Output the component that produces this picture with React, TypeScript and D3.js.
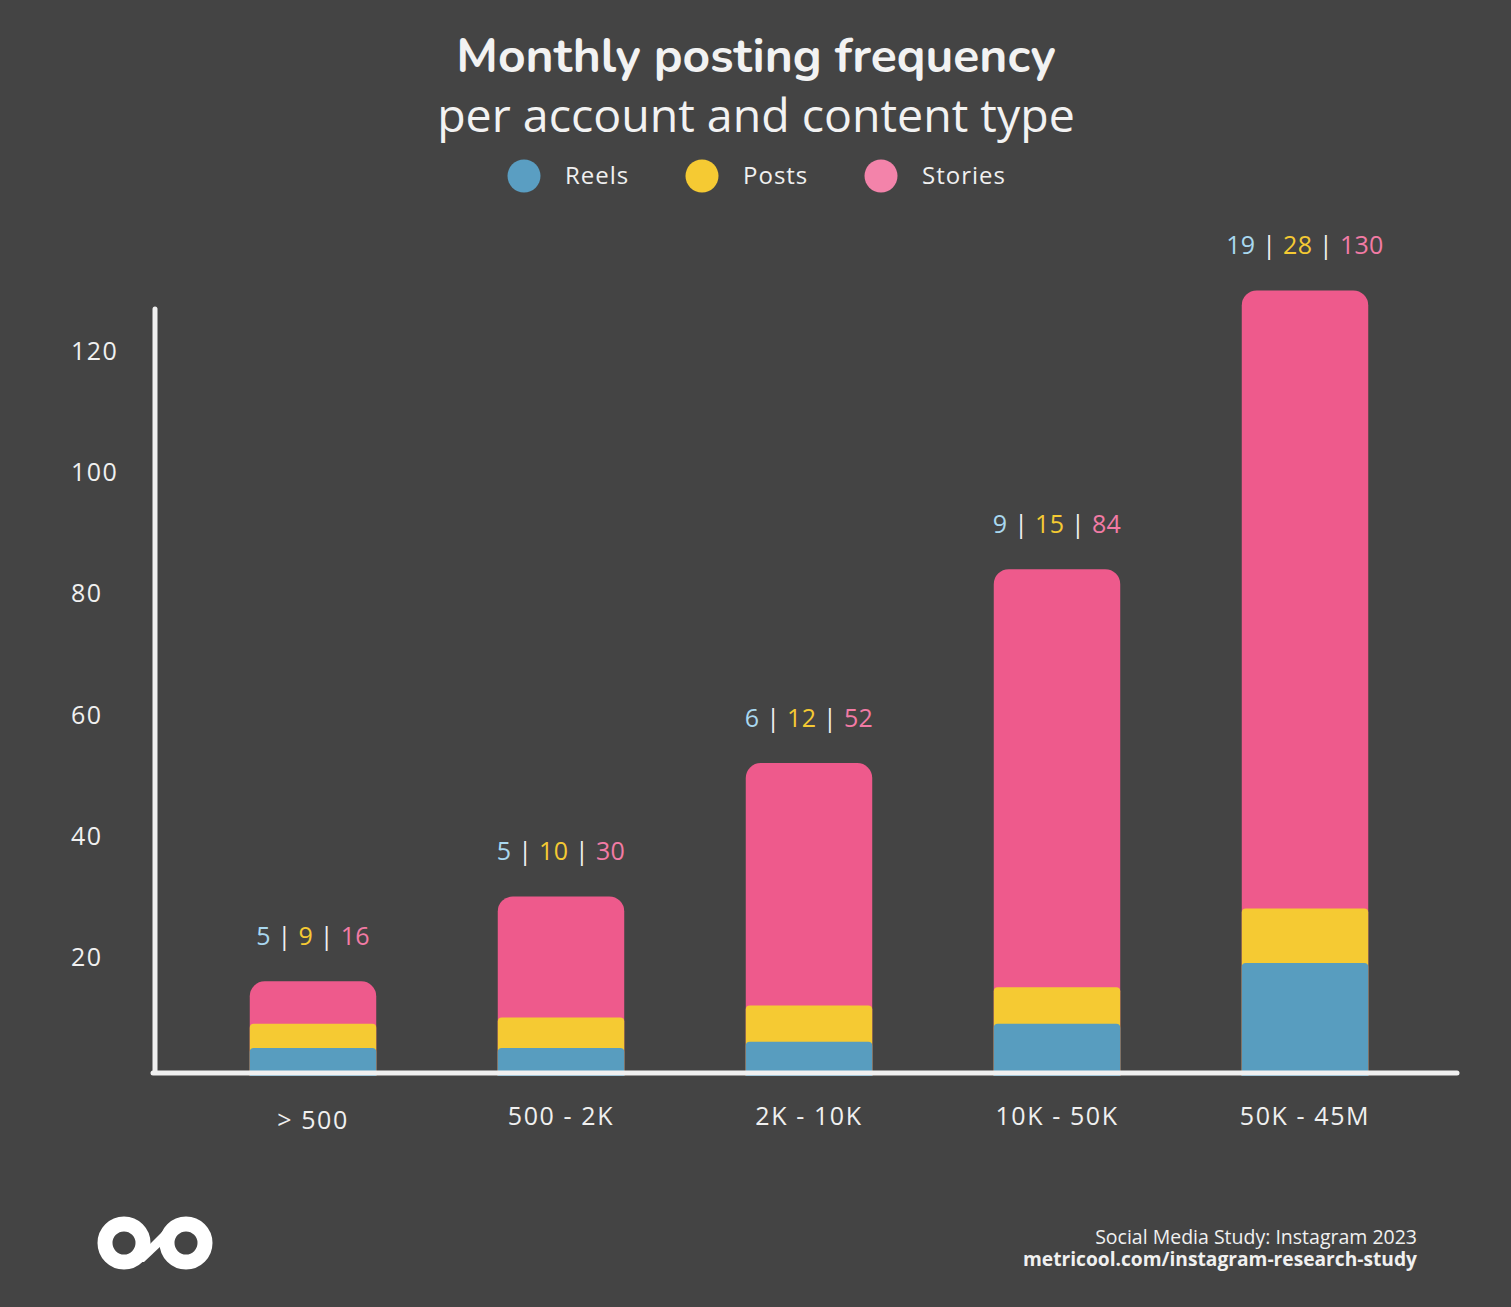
import React from "react";
import * as d3 from "d3";

const categories = ["> 500", "500 - 2K", "2K - 10K", "10K - 50K", "50K - 45M"];
const reels = [5, 5, 6, 9, 19];
const posts = [9, 10, 12, 15, 28];
const stories = [16, 30, 52, 84, 130];
const yTicks = [20, 40, 60, 80, 100, 120];
const seriesNames = ["Reels", "Posts", "Stories"];

const W = 1511;
const H = 1307;
const BG = "#444444";
const BAR = { Reels: "#589DBF", Posts: "#F5CA33", Stories: "#EE5A8C" };
const LEG = { Reels: "#5A9EC2", Posts: "#F5CA33", Stories: "#F383AA" };
const LBL = { Reels: "#A9D8F0", Posts: "#F5CA33", Stories: "#F27BA5" };
const FONT = "'Open Sans', 'Noto Sans', sans-serif";

function topRounded(x: number, y: number, w: number, h: number, r: number) {
  const rr = Math.min(r, h, w / 2);
  const p = d3.path();
  p.moveTo(x, y + h);
  p.lineTo(x, y + rr);
  p.arcTo(x, y, x + rr, y, rr);
  p.lineTo(x + w - rr, y);
  p.arcTo(x + w, y, x + w, y + rr, rr);
  p.lineTo(x + w, y + h);
  p.closePath();
  return p.toString();
}

export default function App() {
  const y = d3.scaleLinear().domain([20, 120]).range([957, 351]);
  const x = d3.scaleBand().domain(categories).range([189, 1429]).paddingInner(0.49).paddingOuter(0.245);
  const bw = x.bandwidth();
  const y0 = y(0);

  const series = [
    { name: "Stories", vals: stories, r: 15 },
    { name: "Posts", vals: posts, r: 4 },
    { name: "Reels", vals: reels, r: 4 },
  ];

  const legendX = [524, 702, 881];

  return (
    <svg width={W} height={H} style={{ display: "block", position: "absolute", left: 0, top: 0 }}>
      <rect x={0} y={0} width={W} height={H} fill={BG} />
      <text x={756} y={72} textAnchor="middle" fill="#F2F2F2" fontFamily="Nunito, 'Open Sans', sans-serif" fontWeight={700} fontSize={48}>
        Monthly posting frequency
      </text>
      <text x={756} y={132} textAnchor="middle" fill="#F2F2F2" fontFamily={FONT} fontWeight={400} fontSize={46.5}>
        per account and content type
      </text>
      {seriesNames.map((n, i) => (
        <g key={n}>
          <circle cx={legendX[i]} cy={176} r={16.5} fill={(LEG as any)[n]} />
          <text x={legendX[i] + 41} y={184} fill="#F0F0F0" fontFamily={FONT} fontSize={24} letterSpacing={1}>
            {n}
          </text>
        </g>
      ))}

      {series.map((s) =>
        categories.map((c, i) => {
          const top = y(s.vals[i]);
          return (
            <path key={s.name + c} d={topRounded(x(c)!, top, bw, y0 - top, s.r)} fill={(BAR as any)[s.name]} />
          );
        })
      )}

      <line x1={155} y1={309} x2={155} y2={1072} stroke="#F0F0F0" strokeWidth={5} strokeLinecap="round" />
      <line x1={153} y1={1073} x2={1457} y2={1073} stroke="#F0F0F0" strokeWidth={5} strokeLinecap="round" />
      <rect x={140} y={1076} width={1340} height={10} fill={BG} />

      {yTicks.map((t) => (
        <text key={t} x={71} y={y(t) + 9} fill="#F0F0F0" fontFamily={FONT} fontSize={25} letterSpacing={1.5}>
          {t}
        </text>
      ))}

      {categories.map((c, i) => (
        <text key={c} x={x(c)! + bw / 2} y={i === 0 ? 1129 : 1125} textAnchor="middle" fill="#F0F0F0" fontFamily={FONT} fontSize={25} letterSpacing={1.6}>
          {c}
        </text>
      ))}

      {categories.map((c, i) => {
        const top = y(stories[i]);
        return (
          <text key={"l" + c} x={x(c)! + bw / 2} y={top - 36} textAnchor="middle" fontFamily={FONT} fontSize={25} fill="#F0F0F0" letterSpacing={0.3}>
            <tspan fill={LBL.Reels}>{reels[i]}</tspan>
            <tspan fill="#F0F0F0"> | </tspan>
            <tspan fill={LBL.Posts}>{posts[i]}</tspan>
            <tspan fill="#F0F0F0"> | </tspan>
            <tspan fill={LBL.Stories}>{stories[i]}</tspan>
          </text>
        );
      })}

      <g fill="none" stroke="#FFFFFF" strokeWidth={15}>
        <circle cx={124} cy={1243} r={19} />
        <circle cx={186} cy={1243} r={19} />
      </g>
      <path d="M132,1262 L168,1226 L180,1228 L144,1262 Z" fill="#FFFFFF" />

      <text x={1417} y={1244} textAnchor="end" fill="#F0F0F0" fontFamily={FONT} fontSize={19.5}>
        Social Media Study: Instagram 2023
      </text>
      <text x={1417} y={1266} textAnchor="end" fill="#F0F0F0" fontFamily={FONT} fontWeight={700} fontSize={19.2}>
        metricool.com/instagram-research-study
      </text>
    </svg>
  );
}
